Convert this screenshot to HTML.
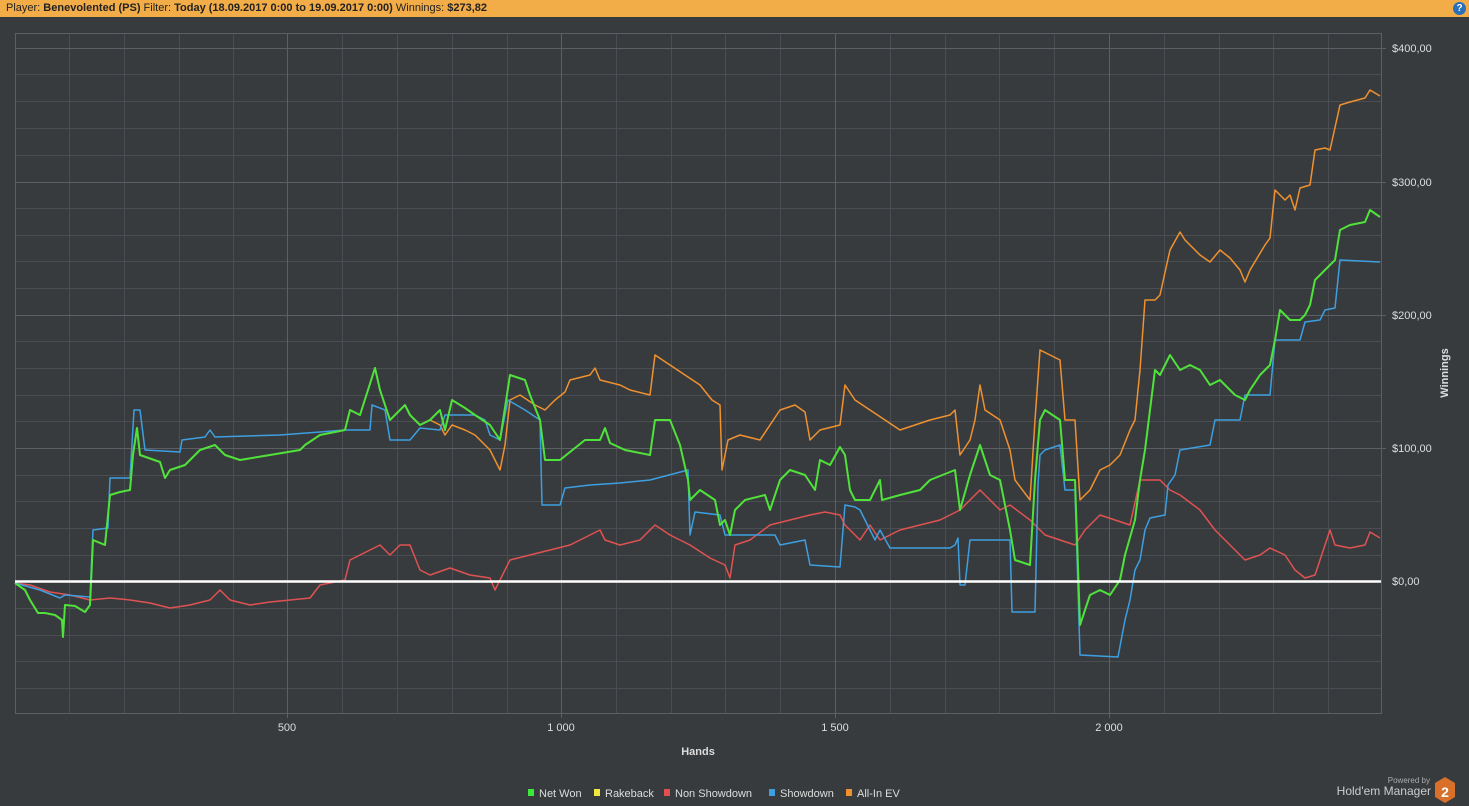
<!DOCTYPE html>
<html><head><meta charset="utf-8"><style>
body{margin:0;width:1469px;height:806px;background:#383b3e;overflow:hidden;font-family:"Liberation Sans",sans-serif}
#hdr{position:absolute;left:0;top:0;width:1469px;height:17px;background:#f2ac48;font-size:11px;line-height:17px;color:#222}
#hdr span{margin-left:6px}
</style></head><body>
<div id="hdr"><span>Player: <b>Benevolented (PS)</b> Filter: <b>Today (18.09.2017 0:00 to 19.09.2017 0:00)</b> Winnings: <b>$273,82</b></span>
<div style="position:absolute;right:3px;top:2px;width:13px;height:13px;border-radius:7px;background:#2a6fb8;color:#fff;font-size:10px;line-height:13px;text-align:center;font-weight:bold">?</div></div>
<svg width="1469" height="806" style="position:absolute;left:0;top:0" font-family="Liberation Sans, sans-serif">
<g stroke="#4a4d51" stroke-width="1">
<path d="M15 74.5H1381M15 101.5H1381M15 128.5H1381M15 155.5H1381M15 208.5H1381M15 235.5H1381M15 261.5H1381M15 288.5H1381M15 341.5H1381M15 368.5H1381M15 395.5H1381M15 421.5H1381M15 475.5H1381M15 501.5H1381M15 528.5H1381M15 555.5H1381M15 608.5H1381M15 635.5H1381M15 661.5H1381M15 688.5H1381"/>
<path d="M69.5 33V713M124.5 33V713M179.5 33V713M233.5 33V713M342.5 33V713M397.5 33V713M452.5 33V713M507.5 33V713M616.5 33V713M671.5 33V713M725.5 33V713M780.5 33V713M890.5 33V713M945.5 33V713M999.5 33V713M1054.5 33V713M1164.5 33V713M1219.5 33V713M1273.5 33V713M1328.5 33V713"/>
</g>
<g stroke="#5c5f63" stroke-width="1">
<path d="M15 48.5H1386M15 182.5H1386M15 315.5H1386M15 448.5H1386"/>
<path d="M287.5 33V718M561.5 33V718M835.5 33V718M1109.5 33V718"/>
<rect x="15.5" y="33.5" width="1366" height="680" fill="none"/>
</g>
<g fill="#ddd" font-size="11">
<text x="1392" y="52">$400,00</text><text x="1392" y="186">$300,00</text><text x="1392" y="319">$200,00</text><text x="1392" y="452">$100,00</text><text x="1392" y="585">$0,00</text>
<text x="287" y="731" text-anchor="middle">500</text><text x="561" y="731" text-anchor="middle">1 000</text><text x="835" y="731" text-anchor="middle">1 500</text><text x="1109" y="731" text-anchor="middle">2 000</text>
<text x="698" y="755" text-anchor="middle" font-weight="bold">Hands</text>
<text transform="translate(1448,373) rotate(-90)" text-anchor="middle" font-weight="bold">Winnings</text>
</g>
<g fill="none" stroke-width="1.5" stroke-linejoin="round">
<polyline stroke="#e05252" points="15,583 30,585 50,592 70,595 90,600 110,598 130,600 150,603 170,608 190,605 210,600 220,590 230,600 250,605 270,602 290,600 310,598 320,585 345,580 350,560 370,550 380,545 390,555 400,545 410,545 420,570 430,575 450,568 470,575 490,578 495,590 510,560 530,555 550,550 570,545 590,535 600,530 605,540 620,545 640,540 655,525 670,535 690,545 710,558 725,565 730,578 735,545 750,540 770,525 790,520 810,515 825,512 840,515 845,525 860,540 870,525 880,540 890,535 900,530 920,525 940,520 960,510 980,490 990,500 1000,510 1010,505 1030,520 1045,535 1060,540 1075,545 1085,530 1100,515 1115,520 1130,525 1140,480 1160,480 1170,490 1180,495 1200,510 1215,530 1230,545 1245,560 1260,555 1270,548 1285,555 1295,570 1305,578 1315,575 1330,530 1335,545 1350,548 1365,545 1370,532 1380,538"/>
<polyline stroke="#f0912f" points="15,583 25,590 30,600 38,613 45,613 55,615 62,620 63,637 65,605 75,606 85,612 90,605 93,540 105,545 110,495 120,492 130,490 133,455 137,428 140,455 160,462 165,478 170,470 185,465 200,450 215,445 225,455 240,460 270,455 300,450 305,445 320,435 345,430 350,410 360,415 375,368 380,390 390,420 400,410 405,405 410,415 420,425 430,420 440,425 445,435 452,425 465,430 475,435 490,450 500,470 505,445 510,400 520,395 535,405 545,410 555,400 565,392 570,380 590,375 595,368 600,380 620,385 630,390 650,395 655,355 670,365 685,375 700,385 712,400 720,405 722,470 728,440 740,435 760,440 780,410 795,405 805,412 810,440 820,430 840,425 845,385 855,400 870,410 885,420 900,430 930,420 950,415 955,410 960,455 970,440 975,420 980,385 985,410 1000,420 1010,450 1015,480 1030,500 1035,420 1040,350 1050,355 1060,360 1065,420 1075,420 1080,500 1085,495 1090,490 1100,470 1110,465 1120,455 1130,430 1135,420 1140,370 1145,300 1155,300 1160,295 1170,250 1180,232 1185,240 1200,255 1210,262 1220,250 1230,258 1240,270 1245,282 1250,270 1265,245 1270,238 1275,190 1285,200 1290,195 1295,210 1300,188 1310,185 1315,150 1325,148 1330,150 1340,105 1350,102 1365,98 1370,90 1380,96"/>
<polyline stroke="#3d9fe0" points="15,583 40,590 60,598 65,595 90,597 93,530 108,528 110,478 130,478 134,410 140,410 145,450 180,452 182,440 205,437 210,430 215,437 280,435 320,432 345,430 370,430 372,405 385,410 390,440 410,440 420,428 440,430 445,415 475,415 485,420 490,435 500,440 508,400 525,410 540,420 542,505 560,505 565,488 590,485 620,483 650,480 688,470 690,535 695,512 720,515 725,535 760,535 775,535 780,545 805,540 810,565 840,567 845,505 855,507 860,510 875,540 880,530 890,548 950,548 955,545 958,538 960,585 965,585 970,540 1010,540 1012,612 1035,612 1038,485 1040,455 1045,450 1060,445 1065,490 1075,490 1080,655 1118,657 1125,620 1130,600 1135,570 1140,560 1145,530 1150,518 1165,515 1168,485 1175,475 1180,450 1210,445 1215,420 1240,420 1245,395 1270,395 1275,340 1300,340 1305,322 1320,320 1325,310 1335,308 1340,260 1380,262"/>
<polyline stroke="#4fe23a" stroke-width="2" points="15,583 25,590 30,600 38,613 45,613 55,615 62,620 63,637 65,605 75,606 85,612 90,605 93,540 105,545 110,495 120,492 130,490 133,455 137,428 140,455 160,462 165,478 170,470 185,465 200,450 215,445 225,455 240,460 270,455 300,450 305,445 320,435 345,430 350,410 360,415 375,368 380,390 390,420 400,410 405,405 410,415 420,425 430,420 440,410 445,430 452,400 465,408 475,415 490,425 500,440 510,375 525,380 530,395 540,420 545,460 560,460 575,448 585,440 600,440 605,428 610,443 625,450 650,455 655,420 670,420 680,445 688,480 690,500 700,490 715,500 720,525 725,520 730,535 735,510 745,500 765,495 770,510 780,480 790,470 805,475 815,490 820,460 830,465 840,447 845,455 850,490 855,500 870,500 880,480 882,500 900,495 920,490 930,480 955,470 960,510 970,475 975,460 980,445 990,475 1000,480 1010,530 1015,560 1030,565 1035,480 1040,420 1045,410 1060,420 1065,480 1075,480 1080,625 1085,610 1090,595 1100,590 1110,595 1120,580 1125,555 1135,520 1140,480 1145,450 1150,410 1155,370 1160,375 1170,355 1180,370 1190,365 1200,370 1210,385 1220,380 1235,395 1245,400 1250,390 1260,375 1270,365 1275,340 1280,310 1290,320 1300,320 1305,315 1310,305 1315,280 1325,270 1335,260 1340,230 1350,225 1365,222 1370,210 1380,217"/>
</g>
<line x1="15" y1="581.5" x2="1381" y2="581.5" stroke="#fff" stroke-width="2.5"/>
<g font-size="11" fill="#ddd">
<rect x="528" y="789" width="6" height="7" fill="#3ee83a"/><text x="539" y="797">Net Won</text>
<rect x="594" y="789" width="6" height="7" fill="#f0e83a"/><text x="605" y="797">Rakeback</text>
<rect x="664" y="789" width="6" height="7" fill="#e05050"/><text x="675" y="797">Non Showdown</text>
<rect x="769" y="789" width="6" height="7" fill="#3d9fe0"/><text x="780" y="797">Showdown</text>
<rect x="846" y="789" width="6" height="7" fill="#f0902e"/><text x="857" y="797">All-In EV</text>
<text x="1430" y="783" font-size="8" text-anchor="end" fill="#aaa">Powered by</text>
<text x="1431" y="795" font-size="12" text-anchor="end" fill="#ccc">Hold'em Manager</text>
</g>
<polygon points="1445,777 1455,783 1455,797 1445,803 1435,797 1435,783" fill="#d8702a"/>
<text x="1445" y="797" font-size="14" font-weight="bold" fill="#fff" text-anchor="middle" font-family="Liberation Sans, sans-serif">2</text>
</svg>
</body></html>
